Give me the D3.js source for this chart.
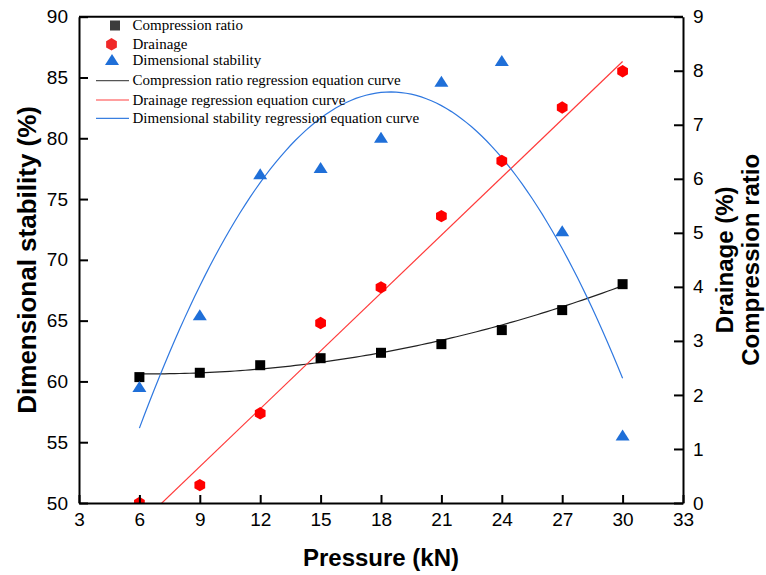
<!DOCTYPE html>
<html>
<head>
<meta charset="utf-8">
<script src="https://d3js.org/d3.v7.min.js"></script>
<style>
  body { margin: 0; background: #fff; }
  svg { display: block; }
  .axis text { font-family: "Liberation Sans", Arial, sans-serif; font-size: 19px; fill: #000; }
  .axis path, .axis line { stroke: #000; stroke-width: 2px; }
</style>
</head>
<body>
<div id="chart"></div>
<script>
// pressure (kN) on the x axis
var pressure = [6, 9, 12, 15, 18, 21, 24, 27, 30];
// right axis series
var compressionRatio = [2.33, 2.41, 2.55, 2.68, 2.78, 2.94, 3.20, 3.57, 4.05];
var drainage = [0, 0.33, 1.66, 3.33, 3.99, 5.31, 6.33, 7.32, 7.99];
// left axis series
var dimStability = [59.5, 65.4, 77.0, 77.5, 80.0, 84.6, 86.3, 72.3, 55.5];

// regression equation coefficients (c0 + c1*x + c2*x^2), as drawn in the figure
var compFit = [2.514, -0.0383, 0.002951];
var drainFit = [-2.54, 0.357];
var dimFit = [23.18, 6.561, -0.1775];

var xTicks = [3, 6, 9, 12, 15, 18, 21, 24, 27, 30, 33];
var leftTicks = [50, 55, 60, 65, 70, 75, 80, 85, 90];
var rightTicks = [0, 1, 2, 3, 4, 5, 6, 7, 8, 9];

var legendItems = [
  {label: "Compression ratio", type: "square", color: "#3c3c3c"},
  {label: "Drainage", type: "hex", color: "#f02828"},
  {label: "Dimensional stability", type: "tri", color: "#1f6fd8"},
  {label: "Compression ratio regression equation curve", type: "line", color: "#555"},
  {label: "Drainage regression equation curve", type: "line", color: "#ff4040"},
  {label: "Dimensional stability regression equation curve", type: "line", color: "#3a7fe0"}
];

var W = 766, H = 575;
var margin = {top: 16.7, right: 83, bottom: 72, left: 79};
var width = W - margin.left - margin.right,
    height = H - margin.top - margin.bottom;

var svg = d3.select("#chart").append("svg")
    .attr("width", W).attr("height", H);
var g = svg.append("g")
    .attr("transform", "translate(" + margin.left + "," + margin.top + ")");

var x = d3.scaleLinear().domain([3, 33]).range([0, width]);
var yL = d3.scaleLinear().domain([50, 90]).range([height, 0]);
var yR = d3.scaleLinear().domain([0, 9]).range([height, 0]);

g.append("clipPath").attr("id", "clip")
  .append("rect").attr("width", width).attr("height", height);

var poly = function(c) {
  return function(v) {
    var s = 0;
    for (var i = 0; i < c.length; i++) s += c[i] * Math.pow(v, i);
    return s;
  };
};
var xs = d3.range(6, 30.001, 0.25);

var plot = g.append("g").attr("clip-path", "url(#clip)");

// regression curves
plot.append("path")
  .datum(xs)
  .attr("fill", "none").attr("stroke", "#222").attr("stroke-width", 1.2)
  .attr("d", d3.line().x(function(d){ return x(d); }).y(function(d){ return yR(poly(compFit)(d)); }));
plot.append("path")
  .datum([6, 30])
  .attr("fill", "none").attr("stroke", "#ff3a3a").attr("stroke-width", 1.2)
  .attr("d", d3.line().x(function(d){ return x(d); }).y(function(d){ return yR(poly(drainFit)(d)); }));
plot.append("path")
  .datum(xs)
  .attr("fill", "none").attr("stroke", "#2f78e0").attr("stroke-width", 1.2)
  .attr("d", d3.line().x(function(d){ return x(d); }).y(function(d){ return yL(poly(dimFit)(d)); }));

// marker shapes
function hexPath(r) {
  var pts = d3.range(6).map(function(i) {
    var a = Math.PI / 3 * i;
    return [r * Math.sin(a), -r * Math.cos(a)];
  });
  return "M" + pts.join("L") + "Z";
}
function triPath(w, h) {
  return "M0," + (-h * 0.6) + "L" + (w / 2) + "," + (h * 0.4) + "L" + (-w / 2) + "," + (h * 0.4) + "Z";
}

plot.selectAll(".sq").data(pressure).enter().append("rect")
  .attr("x", function(d){ return x(d) - 5; })
  .attr("y", function(d, i){ return yR(compressionRatio[i]) - 5; })
  .attr("width", 10).attr("height", 10)
  .attr("fill", "#000");

plot.selectAll(".hex").data(pressure).enter().append("path")
  .attr("d", hexPath(6.2))
  .attr("transform", function(d, i){ return "translate(" + x(d) + "," + yR(drainage[i]) + ")"; })
  .attr("fill", "#ff0000");

plot.selectAll(".tri").data(pressure).enter().append("path")
  .attr("d", triPath(14, 11))
  .attr("transform", function(d, i){ return "translate(" + x(d) + "," + yL(dimStability[i]) + ")"; })
  .attr("fill", "#1f6fd8");

// axes, ticks pointing inward
g.append("g").attr("class", "axis")
  .attr("transform", "translate(0," + height + ")")
  .call(d3.axisBottom(x).tickValues(xTicks).tickSizeInner(-8).tickSizeOuter(0).tickPadding(10));
g.append("g").attr("class", "axis")
  .call(d3.axisLeft(yL).tickValues(leftTicks).tickSizeInner(-9).tickSizeOuter(0).tickPadding(11));
g.append("g").attr("class", "axis")
  .attr("transform", "translate(" + width + ",0)")
  .call(d3.axisRight(yR).tickValues(rightTicks).tickSizeInner(-9).tickSizeOuter(0).tickPadding(10));
g.append("line")
  .attr("x1", 0).attr("x2", width).attr("y1", 0).attr("y2", 0)
  .attr("stroke", "#000").attr("stroke-width", 2);

// axis titles
svg.append("text")
  .attr("x", margin.left + width / 2).attr("y", 566)
  .attr("text-anchor", "middle")
  .style("font-family", "Liberation Sans, Arial, sans-serif")
  .style("font-size", "24px").style("font-weight", "bold")
  .text("Pressure (kN)");
svg.append("text")
  .attr("transform", "translate(36," + (margin.top + height / 2) + ") rotate(-90)")
  .attr("text-anchor", "middle")
  .style("font-family", "Liberation Sans, Arial, sans-serif")
  .style("font-size", "26px").style("font-weight", "bold")
  .text("Dimensional stability (%)");
svg.append("text")
  .attr("transform", "translate(733," + (margin.top + height / 2) + ") rotate(-90)")
  .attr("text-anchor", "middle")
  .style("font-family", "Liberation Sans, Arial, sans-serif")
  .style("font-size", "24px").style("font-weight", "bold")
  .text("Drainage (%)");
svg.append("text")
  .attr("transform", "translate(759," + (margin.top + height / 2) + ") rotate(-90)")
  .attr("text-anchor", "middle")
  .style("font-family", "Liberation Sans, Arial, sans-serif")
  .style("font-size", "24px").style("font-weight", "bold")
  .text("Compression ratio");

// legend
var lg = svg.append("g");
var rowY = [25.5, 44.3, 60.5, 80.7, 100, 118.3];
legendItems.forEach(function(it, i) {
  var cy = rowY[i];
  if (it.type === "square") {
    lg.append("rect").attr("x", 110).attr("y", cy - 5).attr("width", 10).attr("height", 10).attr("fill", it.color);
  } else if (it.type === "hex") {
    lg.append("path").attr("d", hexPath(6.2)).attr("transform", "translate(111.5," + cy + ")").attr("fill", it.color);
  } else if (it.type === "tri") {
    lg.append("path").attr("d", triPath(14, 11)).attr("transform", "translate(112," + cy + ")").attr("fill", it.color);
  } else {
    lg.append("line").attr("x1", 96).attr("x2", 129).attr("y1", cy).attr("y2", cy)
      .attr("stroke", it.color).attr("stroke-width", 1.2);
  }
  lg.append("text")
    .attr("x", 132.5).attr("y", cy + 4.5)
    .style("font-family", "Liberation Serif, Times New Roman, serif")
    .style("font-size", "15px")
    .text(it.label);
});
</script>
</body>
</html>
